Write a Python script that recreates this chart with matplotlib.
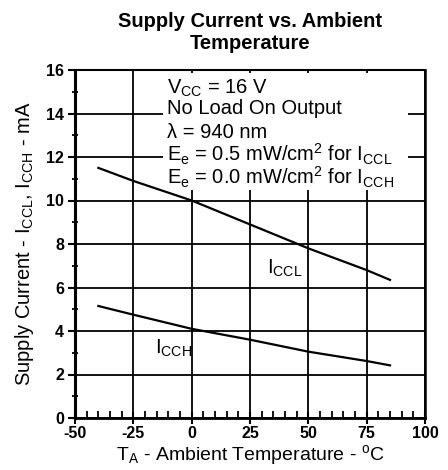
import matplotlib
matplotlib.use("Agg")
import matplotlib.pyplot as plt
from matplotlib.patches import Rectangle
from matplotlib.ticker import MultipleLocator

plt.rcParams['font.family'] = ['Liberation Sans', 'DejaVu Sans']
plt.rcParams['mathtext.fontset'] = 'custom'
plt.rcParams['mathtext.rm'] = 'Liberation Sans'
plt.rcParams['mathtext.it'] = 'Liberation Sans:italic'
plt.rcParams['mathtext.bf'] = 'Liberation Sans:bold'
plt.rcParams['axes.unicode_minus'] = False

# Data
temp = [-40, -25, 0, 25, 50, 75, 85]
iccl = [11.5, 10.9, 10.0, 8.9, 7.8, 6.8, 6.35]
icch = [5.15, 4.75, 4.1, 3.6, 3.05, 2.62, 2.42]
x_ticks = [-50, -25, 0, 25, 50, 75, 100]
y_ticks = [0, 2, 4, 6, 8, 10, 12, 14, 16]

fig = plt.figure(figsize=(4.48, 4.70), dpi=100)
ax = fig.add_axes([75/448, 1-418/470, 350/448, 348/470])

ax.set_xlim(-50, 100)
ax.set_ylim(0, 16)
ax.set_xticks(x_ticks)
ax.set_yticks(y_ticks)
ax.xaxis.set_minor_locator(MultipleLocator(5))
ax.yaxis.set_minor_locator(MultipleLocator(1))
ax.set_axisbelow(True)
ax.grid(True, which='major', color='black', linewidth=1.3)

ax.tick_params(axis='x', which='major', direction='inout', length=8, width=1.5, pad=2)
ax.tick_params(axis='x', which='minor', direction='in', length=5, width=1.3)
ax.tick_params(axis='y', which='major', direction='out', length=5, width=1.5, pad=3)
ax.tick_params(axis='y', which='minor', direction='inout', length=5, width=1.3)

for lab in ax.get_xticklabels() + ax.get_yticklabels():
    lab.set_family(['Liberation Sans Narrow', 'Liberation Sans', 'DejaVu Sans'])
    lab.set_fontweight('bold')
    lab.set_fontsize(11.5)

ax.spines['left'].set_linewidth(2.2)
ax.spines['bottom'].set_linewidth(2.0)
ax.spines['right'].set_linewidth(1.8)
ax.spines['top'].set_linewidth(1.5)

# white box behind annotation text
ax.add_patch(Rectangle((0.251, 0.655), 0.70, 0.336, transform=ax.transAxes,
                       facecolor='white', edgecolor='none', zorder=1))

ax.plot(temp, iccl, color='black', linewidth=1.6, zorder=3)
ax.plot(temp, icch, color='black', linewidth=1.6, zorder=3)

fs = 14.5
lines = [
    r'V$_{\rm CC}$ = 16 V',
    'No Load On Output',
    'λ = 940 nm',
    r'E$_{\rm e}$ = 0.5 mW/cm$^{2}$ for I$_{\rm CCL}$',
    r'E$_{\rm e}$ = 0.0 mW/cm$^{2}$ for I$_{\rm CCH}$',
]
ys = [0.933, 0.873, 0.805, 0.737, 0.670]
for t, yy in zip(lines, ys):
    ax.text(0.262, yy, t, transform=ax.transAxes, fontsize=fs,
            va='baseline', ha='left', zorder=4)

ax.text(40, 6.9, r'I$_{\rm CCL}$', fontsize=fs, ha='center', va='center', zorder=4)
ax.text(-7.7, 3.2, r'I$_{\rm CCH}$', fontsize=fs, ha='center', va='center', zorder=4)

ax.set_xlabel(r'T$_{\rm A}$ - Ambient Temperature - $^{\rm o}$C', fontsize=14)
ax.xaxis.set_label_coords(0.5, -0.072)
ax.set_ylabel(r'Supply Current - I$_{\rm CCL}$, I$_{\rm CCH}$ - mA', fontsize=fs)
ax.yaxis.set_label_coords(-0.112, 0.5)

fig.text(250/448, 1-12/470, 'Supply Current vs. Ambient\nTemperature', ha='center', va='top',
         fontsize=14.5, fontweight='bold', linespacing=1.2)

fig.savefig('out.png', dpi=100)
